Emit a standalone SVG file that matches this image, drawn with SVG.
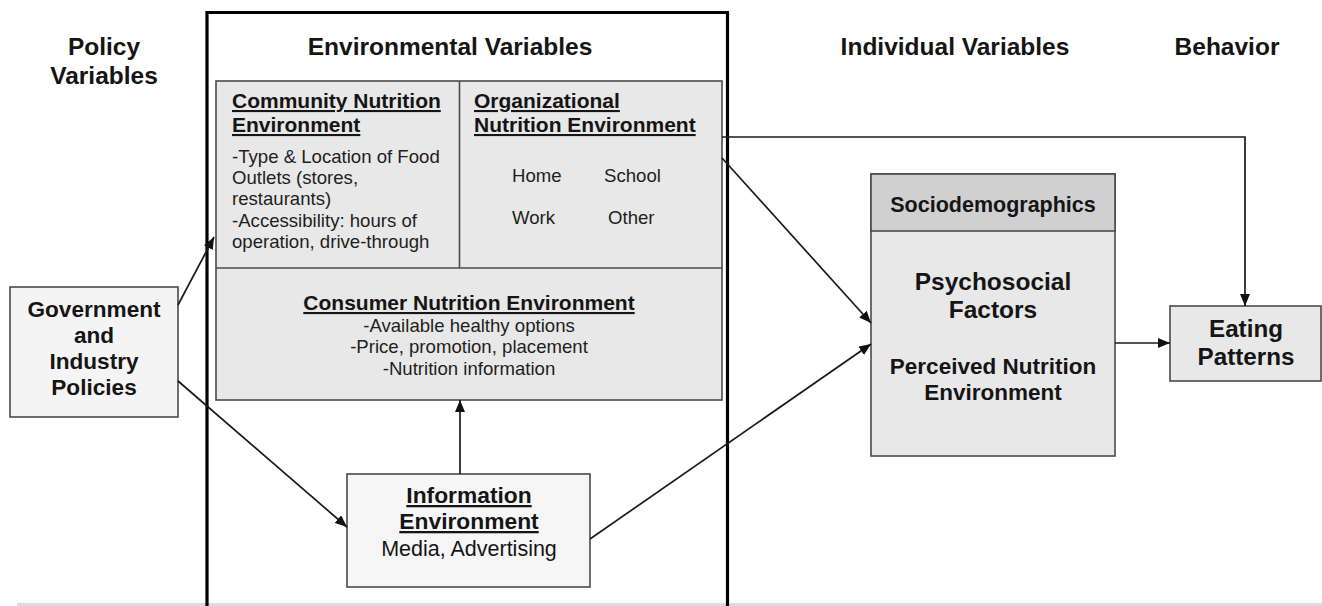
<svg xmlns="http://www.w3.org/2000/svg" width="1322" height="606" viewBox="0 0 1322 606">
  <defs>
    <marker id="arrow" viewBox="0 0 12 10" refX="12" refY="5" markerWidth="12" markerHeight="10" markerUnits="userSpaceOnUse" orient="auto">
      <path d="M0,0 L12,5 L0,10 Z" fill="#111"/>
    </marker>
    <style>
      text { font-family: "Liberation Sans", Arial, sans-serif; fill: #151515; }
      .title { font-size: 24.5px; font-weight: bold; text-anchor: middle; }
      .head { font-size: 21px; font-weight: bold; text-decoration: underline; }
      .item { font-size: 18.6px; fill: #1e1e1e; }
      .box { stroke: #4a4a4a; stroke-width: 1.6; }
      .conn { stroke: #1a1a1a; stroke-width: 1.7; fill: none; }
      .bold { font-weight: bold; text-anchor: middle; }
    </style>
  </defs>

  <rect width="1322" height="606" fill="#ffffff"/>
  <rect x="17" y="603" width="1305" height="3" fill="#dcdcdc"/>

  <!-- column headings -->
  <g id="headings">
    <text class="title" x="104" y="55">Policy</text>
    <text class="title" x="104" y="84">Variables</text>
    <text class="title" x="450" y="55">Environmental Variables</text>
    <text class="title" x="955" y="55">Individual Variables</text>
    <text class="title" x="1227" y="55">Behavior</text>
  </g>

  <!-- environmental variables frame -->
  <path id="env-frame" d="M207,620 V12.5 H727.5 V620" fill="none" stroke="#000" stroke-width="3.2"/>

  <!-- nutrition environments -->
  <g id="nutrition-env">
    <rect class="box" x="216" y="81" width="506" height="319" fill="#e8e8e8"/>
    <line class="box" x1="459.5" y1="81" x2="459.5" y2="268"/>
    <line class="box" x1="216" y1="268" x2="722" y2="268"/>
  </g>

  <g id="community">
    <text class="head" x="232" y="108">Community Nutrition </text>
    <text class="head" x="232" y="132">Environment</text>
    <text class="item" x="232" y="163">-Type &amp; Location of Food</text>
    <text class="item" x="232" y="184">Outlets (stores,</text>
    <text class="item" x="232" y="205">restaurants)</text>
    <text class="item" x="232" y="227">-Accessibility: hours of</text>
    <text class="item" x="232" y="248">operation, drive-through</text>
  </g>

  <g id="organizational">
    <text class="head" x="474" y="108">Organizational</text>
    <text class="head" x="474" y="132">Nutrition Environment</text>
    <text class="item" x="512" y="182">Home</text>
    <text class="item" x="604" y="182">School</text>
    <text class="item" x="512" y="224">Work</text>
    <text class="item" x="608" y="224">Other</text>
  </g>

  <g id="consumer">
    <text class="head" x="469" y="310" text-anchor="middle">Consumer Nutrition Environment</text>
    <text class="item" x="469" y="332" text-anchor="middle">-Available healthy options</text>
    <text class="item" x="469" y="353" text-anchor="middle">-Price, promotion, placement</text>
    <text class="item" x="469" y="375" text-anchor="middle">-Nutrition information</text>
  </g>

  <g id="information">
    <rect class="box" x="347" y="474" width="243" height="113" fill="#f6f6f6"/>
    <text class="bold" x="469" y="503" font-size="22.8" text-decoration="underline">Information</text>
    <text class="bold" x="469" y="529" font-size="22.8" text-decoration="underline">Environment</text>
    <text x="469" y="556" font-size="21.5" text-anchor="middle" fill="#1e1e1e">Media, Advertising</text>
  </g>

  <g id="policies">
    <rect class="box" x="10" y="287" width="168" height="130" fill="#f4f4f4"/>
    <text class="bold" x="94" y="317" font-size="22.6">Government</text>
    <text class="bold" x="94" y="343" font-size="22.6">and</text>
    <text class="bold" x="94" y="369" font-size="22.6">Industry</text>
    <text class="bold" x="94" y="395" font-size="22.6">Policies</text>
  </g>

  <g id="individual">
    <rect class="box" x="871" y="174" width="244" height="282" fill="#e8e8e8"/>
    <rect class="box" x="871" y="174" width="244" height="57" fill="#d0d0d0"/>
    <text class="bold" x="993" y="212" font-size="21.5">Sociodemographics</text>
    <text class="bold" x="993" y="290" font-size="24.5">Psychosocial</text>
    <text class="bold" x="993" y="318" font-size="24.5">Factors</text>
    <text class="bold" x="993" y="374" font-size="22.5">Perceived Nutrition</text>
    <text class="bold" x="993" y="400" font-size="22.5">Environment</text>
  </g>

  <g id="eating">
    <rect class="box" x="1170" y="306" width="151" height="75" fill="#e8e8e8"/>
    <text class="bold" x="1246" y="337" font-size="24.2">Eating</text>
    <text class="bold" x="1246" y="365" font-size="24.2">Patterns</text>
  </g>

  <!-- connectors -->
  <g id="connectors">
    <line class="conn" x1="178" y1="305" x2="214" y2="237" marker-end="url(#arrow)"/>
    <line class="conn" x1="178" y1="381" x2="347" y2="527" marker-end="url(#arrow)"/>
    <line class="conn" x1="460" y1="474" x2="460" y2="400" marker-end="url(#arrow)"/>
    <polyline class="conn" points="722,137 1245,137 1245,306" marker-end="url(#arrow)"/>
    <line class="conn" x1="722" y1="158" x2="871" y2="323" marker-end="url(#arrow)"/>
    <line class="conn" x1="590" y1="539" x2="871" y2="344" marker-end="url(#arrow)"/>
    <line class="conn" x1="1115" y1="343" x2="1170" y2="343" marker-end="url(#arrow)"/>
  </g>
</svg>
